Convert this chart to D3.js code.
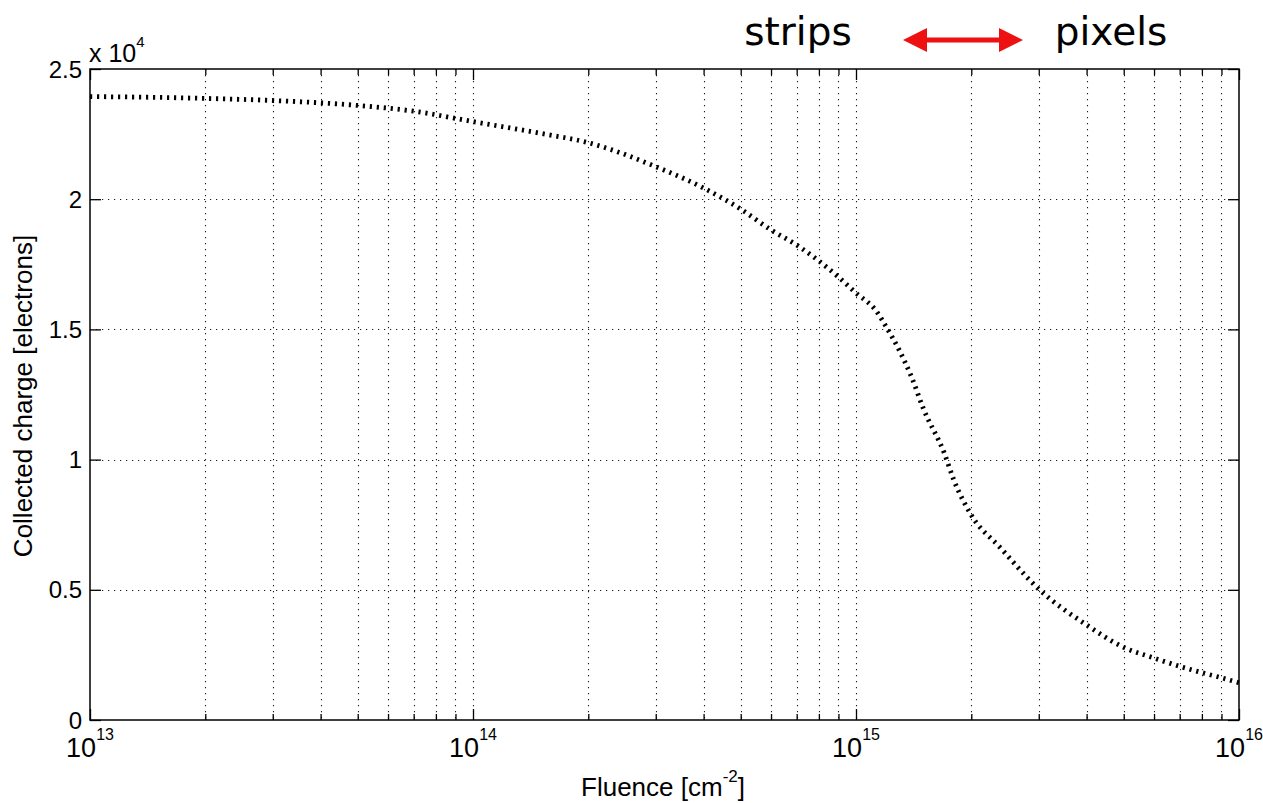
<!DOCTYPE html>
<html>
<head>
<meta charset="utf-8">
<script src="https://cdn.jsdelivr.net/npm/d3@7/dist/d3.min.js"></script>
<style>
  html, body { margin: 0; padding: 0; background: #fff; }
  svg { display: block; }
  text { font-family: Arial, "Liberation Sans", Helvetica, sans-serif; fill: #000; }
</style>
</head>
<body>
<svg id="chart" width="1263" height="803"></svg>
<script>
// ---- data ----
const fluence = [1e13, 1.5e13, 2e13, 3e13, 5e13, 7e13, 1e14, 1.5e14, 2e14, 3e14, 4e14, 5e14, 6e14, 7e14, 8e14, 9e14, 1e15, 1.13e15, 1.2e15, 1.3e15, 1.4e15, 1.5e15, 1.7e15, 1.8e15, 2e15, 2.38e15, 3e15, 4e15, 5e15, 6e15, 7e15, 8e15, 9e15, 1e16];
const charge  = [23940, 23910, 23870, 23790, 23600, 23380, 22980, 22530, 22170, 21250, 20430, 19620, 18820, 18240, 17630, 17010, 16400, 15700, 15090, 14170, 13130, 11950, 10250, 9220, 7870, 6620, 5030, 3650, 2790, 2380, 2060, 1820, 1620, 1430];

const xMajorTicks = [1e13, 1e14, 1e15, 1e16];
const xMajorExponents = ["13", "14", "15", "16"];
const xMinorMultipliers = [2, 3, 4, 5, 6, 7, 8, 9];
const yTicks = [0, 5000, 10000, 15000, 20000, 25000];
const yTickLabels = ["0", "0.5", "1", "1.5", "2", "2.5"];
const yMultiplierExp = "4";
const xLabel = "Fluence [cm";
const xLabelSup = "-2";
const yLabel = "Collected charge [electrons]";
const annotLeft = "strips";
const annotRight = "pixels";

// ---- layout ----
const L = 90, R = 1239, T = 69, B = 720;
const svg = d3.select("#chart");

const x = d3.scaleLog().domain([1e13, 1e16]).range([L, R]);
const y = d3.scaleLinear().domain([0, 25000]).range([B, T]);

const xMinorTicks = [];
for (let i = 0; i < xMajorTicks.length - 1; i++) {
  xMinorMultipliers.forEach(m => xMinorTicks.push(m * xMajorTicks[i]));
}
const xAllTicks = xMajorTicks.concat(xMinorTicks);

// ---- grid ----
const grid = svg.append("g").attr("class", "grid")
  .attr("stroke", "#1a1a1a").attr("stroke-width", 1.1).attr("stroke-dasharray", "1.2,4.8");
grid.selectAll("line.vx").data(xAllTicks.filter(v => v > 1e13 && v < 1e16)).join("line")
  .attr("x1", d => Math.round(x(d)) + 0.5).attr("x2", d => Math.round(x(d)) + 0.5)
  .attr("y1", T).attr("y2", B);
grid.selectAll("line.hy").data(yTicks.filter(v => v > 0 && v < 25000)).join("line")
  .attr("x1", L).attr("x2", R)
  .attr("y1", d => Math.round(y(d)) + 0.5).attr("y2", d => Math.round(y(d)) + 0.5);

// ---- axes (tick marks inside, on all four sides) ----
function styleAxis(g) {
  g.select(".domain").remove();
  g.selectAll(".tick line").attr("stroke", "#000").attr("stroke-width", 1.3);
  g.selectAll(".tick text").remove();
}
svg.append("g").attr("transform", `translate(0,${B})`)
  .call(d3.axisBottom(x).tickValues(xMajorTicks).tickSize(-11).tickFormat("")).call(styleAxis);
svg.append("g").attr("transform", `translate(0,${B})`)
  .call(d3.axisBottom(x).tickValues(xMinorTicks).tickSize(-6).tickFormat("")).call(styleAxis);
svg.append("g").attr("transform", `translate(0,${T})`)
  .call(d3.axisTop(x).tickValues(xMajorTicks).tickSize(-11).tickFormat("")).call(styleAxis);
svg.append("g").attr("transform", `translate(0,${T})`)
  .call(d3.axisTop(x).tickValues(xMinorTicks).tickSize(-6).tickFormat("")).call(styleAxis);
svg.append("g").attr("transform", `translate(${L},0)`)
  .call(d3.axisLeft(y).tickValues(yTicks).tickSize(-11).tickFormat("")).call(styleAxis);
svg.append("g").attr("transform", `translate(${R},0)`)
  .call(d3.axisRight(y).tickValues(yTicks).tickSize(-11).tickFormat("")).call(styleAxis);

// box
svg.append("rect").attr("x", L).attr("y", T).attr("width", R - L).attr("height", B - T)
  .attr("fill", "none").attr("stroke", "#000").attr("stroke-width", 1.5);

// ---- data line ----
const line = d3.line().x((d, i) => x(fluence[i])).y(d => y(d)).curve(d3.curveMonotoneX);
svg.append("path").datum(charge)
  .attr("d", line).attr("fill", "none").attr("stroke", "#000")
  .attr("stroke-width", 4.8).attr("stroke-dasharray", "2.2,4.8").attr("stroke-linecap", "butt");

// ---- tick labels ----
svg.selectAll("text.ylab").data(yTicks).join("text")
  .attr("x", L - 8).attr("y", d => y(d) + 8.5)
  .attr("text-anchor", "end").attr("font-size", 24)
  .text((d, i) => yTickLabels[i]);

const xl = svg.selectAll("text.xlab").data(xMajorTicks).join("text")
  .attr("x", d => x(d)).attr("y", 757).attr("text-anchor", "middle").attr("font-size", 27);
xl.append("tspan").text("10");
xl.append("tspan").attr("dy", -17).attr("font-size", 16).text((d, i) => xMajorExponents[i]);

// multiplier
const mult = svg.append("text").attr("x", 89).attr("y", 62).attr("font-size", 25);
mult.append("tspan").text("x 10");
mult.append("tspan").attr("dy", -15).attr("font-size", 15).text(yMultiplierExp);

// axis labels
const xt = svg.append("text").attr("x", 663).attr("y", 796).attr("text-anchor", "middle").attr("font-size", 26);
xt.append("tspan").text(xLabel);
xt.append("tspan").attr("dy", -14).attr("font-size", 17).text(xLabelSup);
xt.append("tspan").attr("dy", 14).text("]");

svg.append("text").attr("transform", "translate(32,396) rotate(-90)")
  .attr("text-anchor", "middle").attr("font-size", 26).text(yLabel);

// ---- annotation ----
const annFont = '"Comic Sans MS", "DejaVu Sans", sans-serif';
svg.append("text").attr("x", 798).attr("y", 45).attr("text-anchor", "middle")
  .attr("font-size", 39).style("font-family", annFont).text(annotLeft);
svg.append("text").attr("x", 1111).attr("y", 45).attr("text-anchor", "middle")
  .attr("font-size", 39).style("font-family", annFont).text(annotRight);

const ax0 = 903, ax1 = 1023, ay = 40, hl = 24, hh = 12, sw = 2.6;
svg.append("path")
  .attr("d", `M${ax0},${ay} L${ax0 + hl},${ay - hh} L${ax0 + hl},${ay - sw} L${ax1 - hl},${ay - sw} L${ax1 - hl},${ay - hh} L${ax1},${ay} L${ax1 - hl},${ay + hh} L${ax1 - hl},${ay + sw} L${ax0 + hl},${ay + sw} L${ax0 + hl},${ay + hh} Z`)
  .attr("fill", "#ee1111");
</script>
</body>
</html>
